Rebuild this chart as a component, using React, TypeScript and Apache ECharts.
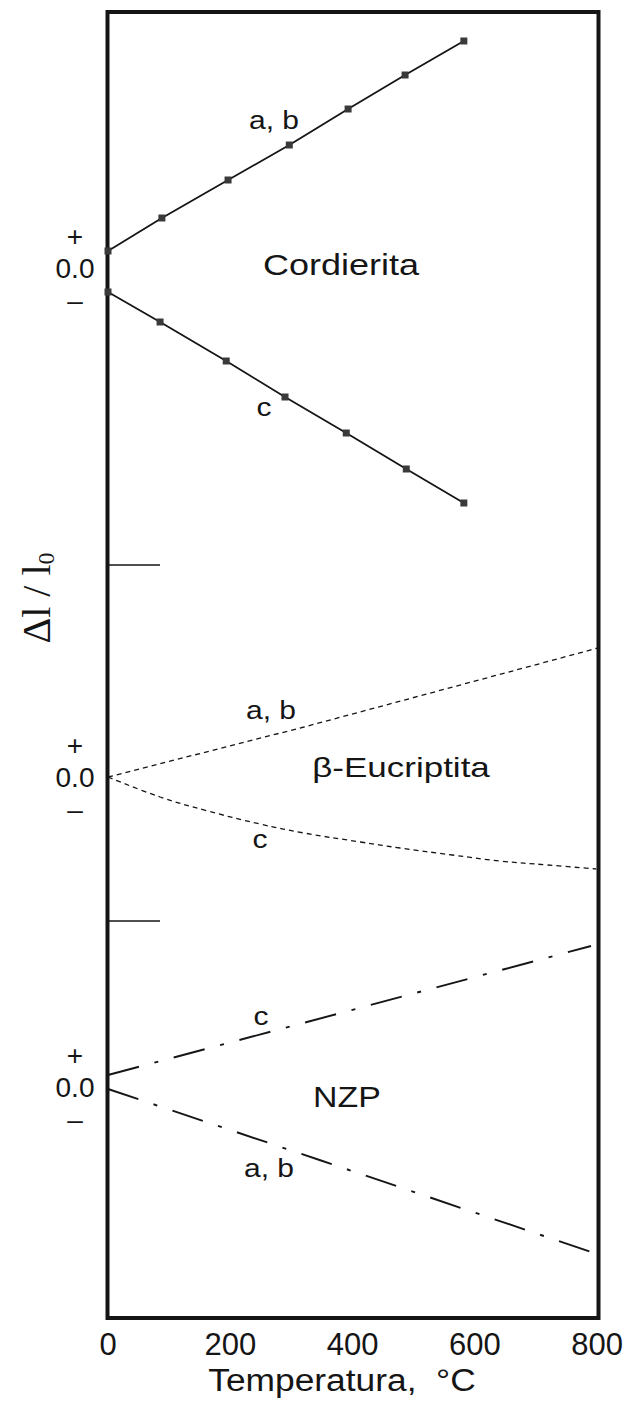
import React, { useEffect, useRef } from "react";
import * as echarts from "echarts";

// Temperature (°C) positions and relative expansion values (arbitrary units, 0 = no change)
const xTickStep = 200;
const xMin = 0;
const xMax = 800;

const cordAbTemp = [0, 88, 196, 296, 392, 485, 581];
const cordAbVal = [0.17, 0.5, 0.88, 1.23, 1.59, 1.93, 2.27];
const cordCTemp = [0, 85, 193, 289, 389, 487, 581];
const cordCVal = [-0.24, -0.54, -0.93, -1.29, -1.65, -2.01, -2.35];

const eucAbTemp = [0, 320, 800];
const eucAbVal = [0, 0.5, 1.29];
const eucCTemp = [0, 85, 163, 248, 320, 412, 477, 562, 640, 718, 797];
const eucCVal = [0, -0.2, -0.34, -0.47, -0.56, -0.65, -0.71, -0.78, -0.84, -0.88, -0.92];

const nzpCTemp = [0, 307, 790];
const nzpCVal = [0.12, 0.62, 1.41];
const nzpAbTemp = [0, 346, 790];
const nzpAbVal = [-0.02, -0.73, -1.65];

const zip = (t: number[], v: number[]) => t.map((x, i) => [x, v[i]]);

const INK = "#151515";
const SANS = "'Liberation Sans', Arial, Helvetica, sans-serif";
const SERIF = "'Liberation Serif', 'Times New Roman', serif";

export default function App() {
  const ref = useRef<HTMLDivElement>(null);

  useEffect(() => {
    if (!ref.current) return;
    const chart = echarts.init(ref.current, null, { renderer: "svg" });

    const gridLeft = 108;
    const gridWidth = 490;
    const grids = [
      { left: gridLeft, width: gridWidth, top: 12, height: 553 },
      { left: gridLeft, width: gridWidth, top: 565, height: 356 },
      { left: gridLeft, width: gridWidth, top: 921, height: 397 },
      {
        left: 107.5,
        width: 491,
        top: 12,
        height: 1306,
        show: true,
        borderColor: INK,
        borderWidth: 4,
        backgroundColor: "transparent",
      },
    ];

    const yRanges = [
      { min: -2.97, max: 2.56 },
      { min: -1.44, max: 2.12 },
      { min: -2.31, max: 1.66 },
    ];

    const zeroLabel = {
      show: true,
      customValues: [0],
      align: "center",
      margin: 33,
      formatter: () => "{p|+}\n{z|0.0}\n{p|–}",
      rich: {
        p: { fontSize: 28, fontFamily: SANS, color: INK, lineHeight: 32, align: "center" },
        z: { fontSize: 28, fontFamily: SANS, color: INK, lineHeight: 32, align: "center" },
      },
    };

    const yAxes: any[] = yRanges.map((r, i) => ({
      type: "value",
      gridIndex: i,
      min: r.min,
      max: r.max,
      axisLine: { show: false },
      splitLine: { show: false },
      axisLabel: zeroLabel,
      axisTick:
        i < 2
          ? {
              show: true,
              customValues: [r.min],
              inside: true,
              length: 52,
              lineStyle: { color: INK, width: 1.5 },
            }
          : { show: false },
    }));
    yAxes.push({ type: "value", gridIndex: 3, show: false, min: 0, max: 1 });

    const xAxes: any[] = [0, 1, 2, 3].map((i) => ({
      type: "value",
      gridIndex: i,
      min: xMin,
      max: xMax,
      interval: xTickStep,
      show: i === 2,
      axisLine: { show: false },
      axisTick: { show: false },
      splitLine: { show: false },
      axisLabel: {
        show: i === 2,
        fontSize: 31,
        fontFamily: SANS,
        color: INK,
        margin: 11,
      },
    }));

    const solid = { color: INK, width: 1.8, type: "solid" };
    const dashed = { color: INK, width: 1.3, type: [5, 4] };
    const dashDot = { color: INK, width: 1.9, type: [32, 16, 4, 16] };

    const markerSeries = (name: string, data: number[][]) => ({
      name,
      type: "line",
      xAxisIndex: 0,
      yAxisIndex: 0,
      data,
      symbol: "rect",
      symbolSize: 7,
      showSymbol: true,
      itemStyle: { color: "#3a3a3a" },
      lineStyle: solid,
    });

    const plain = (name: string, idx: number, data: number[][], ls: any, smooth: any = false) => ({
      name,
      type: "line",
      xAxisIndex: idx,
      yAxisIndex: idx,
      data,
      symbol: "none",
      smooth,
      lineStyle: ls,
    });

    const txt = (text: string, x: number, y: number, size: number, sx = 1.2) => ({
      type: "text",
      x,
      y,
      scaleX: sx,
      silent: true,
      style: {
        text,
        fontSize: size,
        fontFamily: SANS,
        fill: INK,
        align: "center",
        verticalAlign: "middle",
      },
    });

    const option: any = {
      animation: false,
      backgroundColor: "#ffffff",
      grid: grids,
      xAxis: xAxes,
      yAxis: yAxes,
      series: [
        markerSeries("Cordierita a, b", zip(cordAbTemp, cordAbVal)),
        markerSeries("Cordierita c", zip(cordCTemp, cordCVal)),
        plain("β-Eucriptita a, b", 1, zip(eucAbTemp, eucAbVal), dashed),
        plain("β-Eucriptita c", 1, zip(eucCTemp, eucCVal), dashed, 0.4),
        plain("NZP c", 2, zip(nzpCTemp, nzpCVal), dashDot),
        plain("NZP a, b", 2, zip(nzpAbTemp, nzpAbVal), dashDot),
      ],
      graphic: [
        txt("a, b", 274, 120, 25),
        txt("Cordierita", 341, 265, 30),
        txt("c", 264, 407, 25),
        txt("a, b", 271, 710, 25),
        txt("β-Eucriptita", 401, 767, 28, 1.25),
        txt("c", 260, 839, 25),
        txt("c", 261, 1016, 25),
        txt("NZP", 347, 1097, 30, 1.13),
        txt("a, b", 269, 1168, 25),
        txt("Temperatura,  °C", 342, 1380, 31, 1.14),
        {
          type: "text",
          x: 36,
          y: 598,
          rotation: Math.PI / 2,
          silent: true,
          style: {
            text: "{a|Δl / l}{b|0}",
            align: "center",
            verticalAlign: "middle",
            fill: INK,
            rich: {
              a: { fontSize: 40, fontFamily: SERIF, fill: INK, lineHeight: 44, verticalAlign: "middle" },
              b: { fontSize: 24, fontFamily: SERIF, fill: INK, lineHeight: 44, verticalAlign: "bottom", padding: [14, 0, 0, 0] },
            },
          },
        },
      ],
    };

    chart.setOption(option);
    return () => chart.dispose();
  }, []);

  return (
    <div
      ref={ref}
      style={{ position: "absolute", left: 0, top: 0, width: 626, height: 1405, background: "#fff" }}
    />
  );
}
